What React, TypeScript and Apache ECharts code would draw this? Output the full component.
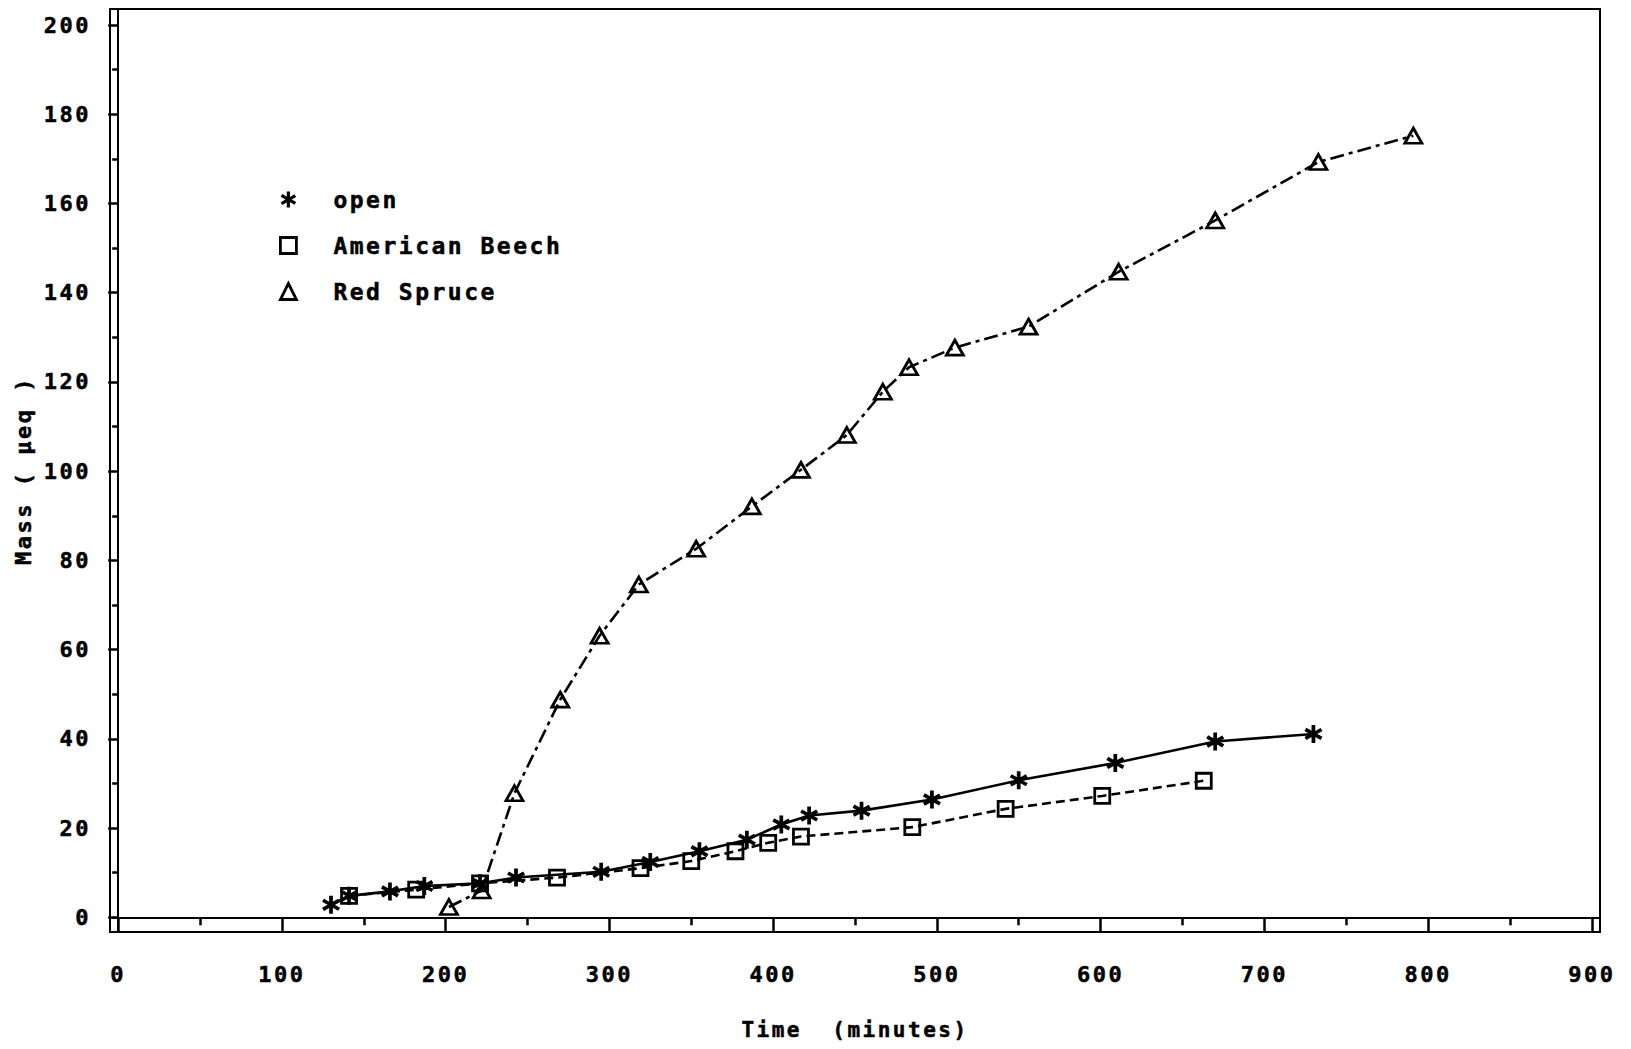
import React, { useEffect, useRef } from "react";
import * as echarts from "echarts";

// ---- data ----
const seriesNames = ["open", "American Beech", "Red Spruce"];

const openTime = [130, 141, 166, 187, 221, 243, 295, 325, 355, 384, 405, 422, 454, 497, 550, 609, 670, 730];
const openMass = [2.8, 4.8, 5.8, 7.0, 7.6, 8.9, 10.2, 12.4, 14.8, 17.4, 20.8, 22.8, 23.9, 26.4, 30.7, 34.6, 39.4, 41.1];

const beechTime = [141, 182, 221, 268, 319, 350, 377, 397, 417, 485, 542, 601, 663];
const beechMass = [4.8, 6.2, 7.6, 8.9, 11.0, 12.6, 14.8, 16.7, 18.1, 20.2, 24.3, 27.2, 30.6];

const spruceTime = [202, 222, 242, 270, 294, 318, 353, 387, 417, 445, 467, 483, 511, 556, 611, 670, 733, 791];
const spruceMass = [2.3, 6.0, 27.8, 48.8, 63.1, 74.6, 82.6, 92.1, 100.3, 108.1, 117.8, 123.3, 127.7, 132.4, 144.7, 156.2, 169.3, 175.2];

const xTickValues = [0, 100, 200, 300, 400, 500, 600, 700, 800, 900];
const xMinorTickValues = [50, 150, 250, 350, 450, 550, 650, 750, 850];
const yTickValues = [0, 20, 40, 60, 80, 100, 120, 140, 160, 180, 200];
const yMinorTickValues = [10, 30, 50, 70, 90, 110, 130, 150, 170, 190];

const xAxisTitle = "Time  (minutes)";
const yAxisTitle = "Mass ( \u03bceq )";

const FONT = '"DejaVu Sans Mono", monospace';
const ASTERISK =
  "path://M40 0L60 0L60 100L40 100Z M11.9 15.9L98.5 65.9L88.5 83.2L1.9 33.2Z M1.9 66.8L88.5 16.8L98.5 34.1L11.9 84.1Z";

const pairs = (xs: number[], ys: number[]) => xs.map((x, i) => [x, ys[i]]);

const hollow = { color: "rgba(0,0,0,0)", borderColor: "#000", borderWidth: 2.8 };
const labelStyle = { fontFamily: FONT, fontWeight: "bold" as const, fontSize: 22, color: "#000" };

export default function App() {
  const ref = useRef<HTMLDivElement>(null);

  useEffect(() => {
    if (!ref.current) return;
    const chart = echarts.init(ref.current, undefined, { renderer: "svg" });
    const X_MIN = -5;
    const X_MAX = 905;
    const Y_MIN = -3.3;
    const Y_MAX = 203.6;

    chart.setOption({
      animation: false,
      backgroundColor: "#fff",
      grid: {
        left: 110,
        right: 31,
        top: 9,
        bottom: 117,
        show: true,
        borderColor: "#000",
        borderWidth: 2,
        backgroundColor: "transparent",
      },
      legend: {
        orient: "vertical",
        left: 279,
        top: 188,
        padding: 0,
        itemWidth: 16,
        itemHeight: 16,
        itemGap: 23,
        selectedMode: false,
        textStyle: { ...labelStyle, fontSize: 23, padding: [0, 0, 0, 32] },
        data: [
          { name: seriesNames[0], icon: ASTERISK, itemStyle: { color: "#000", borderWidth: 0 } },
          { name: seriesNames[1], icon: "rect", itemStyle: hollow },
          { name: seriesNames[2], icon: "triangle", itemStyle: hollow },
        ],
      },
      xAxis: [
        {
          type: "value",
          position: "bottom",
          min: X_MIN,
          max: X_MAX,
          name: xAxisTitle,
          nameLocation: "middle",
          nameGap: 87,
          nameTextStyle: { ...labelStyle, fontSize: 21 },
          axisLine: { show: true, lineStyle: { color: "#000", width: 2 } },
          axisTick: { show: true, customValues: xTickValues, length: 15, lineStyle: { color: "#000", width: 2.5 } },
          axisLabel: { show: true, customValues: xTickValues, margin: 31, ...labelStyle },
          splitLine: { show: false },
        },
        {
          type: "value",
          position: "bottom",
          min: X_MIN,
          max: X_MAX,
          axisLine: { show: false },
          axisTick: { show: true, customValues: xMinorTickValues, length: 8, lineStyle: { color: "#000", width: 2.5 } },
          axisLabel: { show: false },
          splitLine: { show: false },
        },
      ],
      yAxis: [
        {
          type: "value",
          position: "left",
          min: Y_MIN,
          max: Y_MAX,
          name: yAxisTitle,
          nameLocation: "middle",
          nameGap: 76,
          nameTextStyle: { ...labelStyle, fontSize: 22 },
          axisLine: { show: true, lineStyle: { color: "#000", width: 2 } },
          axisTick: { show: true, customValues: yTickValues, length: 10, lineStyle: { color: "#000", width: 2.5 } },
          axisLabel: { show: true, customValues: yTickValues, margin: 19, ...labelStyle },
          splitLine: { show: false },
        },
        {
          type: "value",
          position: "left",
          min: Y_MIN,
          max: Y_MAX,
          axisLine: { show: false },
          axisTick: { show: true, customValues: yMinorTickValues, length: 6, lineStyle: { color: "#000", width: 2.5 } },
          axisLabel: { show: false },
          splitLine: { show: false },
        },
      ],
      series: [
        {
          name: seriesNames[0],
          type: "line",
          xAxisIndex: 0,
          yAxisIndex: 0,
          data: pairs(openTime, openMass),
          symbol: ASTERISK,
          symbolSize: 18,
          itemStyle: { color: "#000", borderWidth: 0 },
          lineStyle: { color: "#000", width: 2.6, type: "solid" },
          z: 4,
        },
        {
          name: seriesNames[1],
          type: "line",
          xAxisIndex: 0,
          yAxisIndex: 0,
          data: pairs(beechTime, beechMass),
          symbol: "rect",
          symbolSize: 15,
          itemStyle: hollow,
          lineStyle: { color: "#000", width: 2.6, type: [9, 5] },
          z: 3,
        },
        {
          name: seriesNames[2],
          type: "line",
          xAxisIndex: 0,
          yAxisIndex: 0,
          data: pairs(spruceTime, spruceMass),
          symbol: "triangle",
          symbolSize: [17, 15],
          itemStyle: hollow,
          lineStyle: { color: "#000", width: 2.6, type: [14, 5, 4, 5] },
          z: 3,
        },
      ],
    });

    return () => chart.dispose();
  }, []);

  return (
    <>
      <style>{"#chart-box svg text { letter-spacing: 2.5px; stroke: #000; stroke-width: 0.5px; }"}</style>
      <div
        id="chart-box"
        ref={ref}
        style={{ position: "fixed", left: 0, top: 0, width: 1631, height: 1049, background: "#fff" }}
      />
    </>
  );
}
